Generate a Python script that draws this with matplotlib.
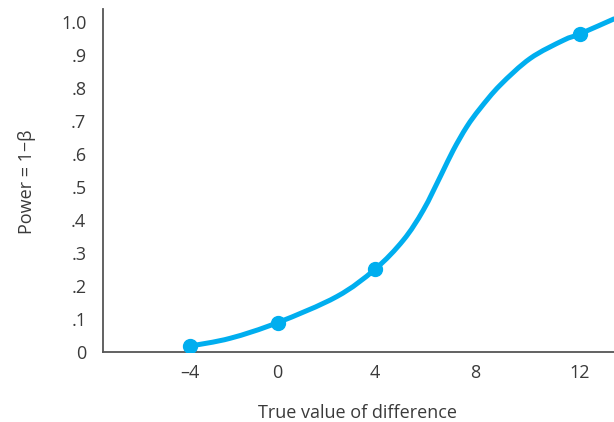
import numpy as np
import matplotlib
matplotlib.use("Agg")
import matplotlib.pyplot as plt
from matplotlib.path import Path
from matplotlib.patches import PathPatch

plt.rcParams['font.family'] = ['Open Sans', 'DejaVu Sans']

# sample points (true difference, power)
point_x = [-4, 0, 4, 12]
point_y = [0.018, 0.089, 0.251, 0.964]

# power curve
curve_x = [-4, -2.17, 0, 2.43, 4, 5.13, 5.93, 6.65, 7.13, 7.67, 8.19, 8.96, 10.11,
           11.38, 12, 13.32]
curve_y = [0.018, 0.0415, 0.089, 0.168, 0.251, 0.339, 0.43, 0.538, 0.612, 0.683,
           0.738, 0.809, 0.89, 0.945, 0.964, 1.01]

xticks = [-4, 0, 4, 8, 12]
xticklabels = ['\u20134', '0', '4', '8', '12']
yticks = [0, .1, .2, .3, .4, .5, .6, .7, .8, .9, 1.0]
yticklabels = ['0', '.1', '.2', '.3', '.4', '.5', '.6', '.7', '.8', '.9', '1.0']

# the printed axis is not evenly spaced; reproduce tick spacing
tick_pos = [190 - 218.75, 190, 277.5, 375, 475, 579.5, 579.5 + 261.25]
tick_val = [-14, -4, 0, 4, 8, 12, 22]

def fwd(x):
    return np.interp(x, tick_val, tick_pos)

def inv(p):
    return np.interp(p, tick_pos, tick_val)

def smooth_path(xs, ys):
    # catmull-rom through the read points, drawn as cubic beziers
    p = np.column_stack([xs, ys])
    ext = np.vstack([p[0], p, p[-1]])
    verts = [p[0]]
    codes = [Path.MOVETO]
    for i in range(1, len(ext) - 2):
        c1 = ext[i] + (ext[i + 1] - ext[i - 1]) / 6
        c2 = ext[i + 1] - (ext[i + 2] - ext[i]) / 6
        verts += [c1, c2, ext[i + 1]]
        codes += [Path.CURVE4] * 3
    return Path(verts, codes)

blue = '#00AEEF'
txt = '#3a3a3a'

fig = plt.figure(figsize=(6.14, 4.22), dpi=100)
ax = fig.add_axes([103/614, 70/422, 1 - 103/614, 343/422])
ax.set_xscale('function', functions=(fwd, inv))

ax.set_xlim(-7.98, 13.32)
ax.set_ylim(0, 1.04)

# build the curve in scaled x so the bezier stays smooth across ticks
ax.add_patch(PathPatch(smooth_path(fwd(curve_x), curve_y), fill=False,
                       edgecolor=blue, lw=3.6, capstyle='round', joinstyle='round',
                       zorder=3, transform=ax.transLimits + ax.transAxes))
ax.plot(point_x, point_y, 'o', color=blue, ms=10, zorder=4)

ax.set_xticks(xticks)
ax.set_xticklabels(xticklabels)
ax.set_xticks([], minor=True)
ax.set_yticks(yticks)
ax.set_yticklabels(yticklabels)
ax.tick_params(length=0, labelsize=13, labelcolor=txt)
ax.tick_params(axis='y', pad=12)
ax.tick_params(axis='x', pad=9)

for s in ['top', 'right']:
    ax.spines[s].set_visible(False)
for s in ['left', 'bottom']:
    ax.spines[s].set_color('#555555')
    ax.spines[s].set_linewidth(1.3)

fig.text(357/614, 1 - 413/422, 'True value of difference', ha='center', va='center',
         fontsize=13, color=txt)
fig.text(27/614, 1 - 182/422, 'Power = 1\u2212\u03b2', ha='center', va='center',
         rotation=90, fontsize=13, color=txt)

fig.savefig('out.png', dpi=100)
